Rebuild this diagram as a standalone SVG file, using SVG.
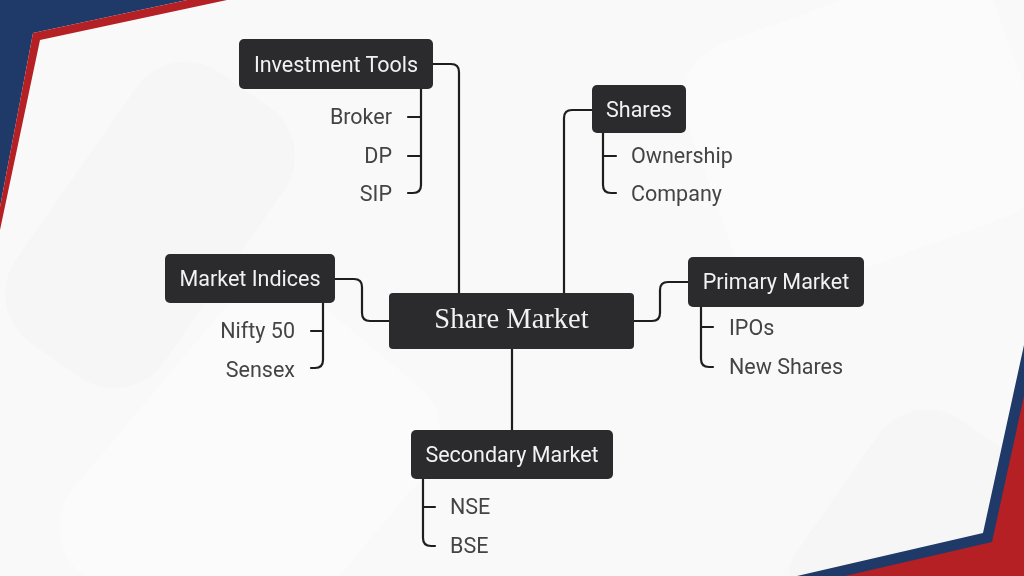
<svg xmlns="http://www.w3.org/2000/svg" width="1024" height="576" viewBox="0 0 1024 576">
<style>
.node rect{fill:#2b2b2e}
.nt{font-family:Roboto,"Liberation Sans",sans-serif;font-size:21.5px;fill:#f2f2f2;text-anchor:middle}
.ct{font-family:Roboto,"Liberation Sans",sans-serif;font-size:21.5px;fill:#444}
.r{text-anchor:end}
#connectors path{fill:none;stroke:#1e1e1e;stroke-width:2.2;stroke-linecap:round}
</style>
<rect width="1024" height="576" fill="#f9f9f9"/>
<g opacity="0.5">
<rect x="60" y="60" width="180" height="330" rx="60" fill="#f3f3f3" transform="rotate(35 150 225)"/>
<rect x="120" y="300" width="260" height="360" rx="60" fill="#fdfdfd" transform="rotate(40 250 480)"/>
<rect x="820" y="420" width="200" height="260" rx="60" fill="#f3f3f3" transform="rotate(35 920 550)"/>
<rect x="700" y="0" width="330" height="260" rx="60" fill="#fdfdfd" transform="rotate(-20 865 130)"/>
</g>
<polygon points="0,0 187,0 33,33 0,207" fill="#1f3a68"/>
<polygon points="187,0 227,0 40,40 0,230 0,207 33,33" fill="#b52024"/>
<polygon points="1024,345 983,533 797,576 1024,576" fill="#1f3a68"/>
<polygon points="1024,396 992,542 845,576 1024,576" fill="#b52024"/>
<g id="connectors">
<path d="M433,64 H451 Q459,64 459,72 V293"/>
<path d="M592,110 H572 Q564,110 564,118 V293"/>
<path d="M335,279 H354 Q362,279 362,287 V313 Q362,321 370,321 H389"/>
<path d="M634,321 H652 Q660,321 660,313 V290 Q660,282 668,282 H688"/>
<path d="M512,349 V430"/>
<path d="M421,89 V185 Q421,193 413,193 H408 M408,117 H421 M408,156 H421"/>
<path d="M603,133 V185 Q603,193 611,193 H616 M603,156 H616"/>
<path d="M323,303 V360 Q323,368 315,368 H311 M311,331 H323"/>
<path d="M701,307 V359 Q701,367 709,367 H713 M701,327 H713"/>
<path d="M423,479 V538 Q423,546 431,546 H435 M423,507 H435"/>
</g>
<g id="share-market" class="node">
<rect x="389" y="293" width="245" height="56" rx="4"/>
<text x="511.5" y="328" font-family="'Liberation Serif','DejaVu Serif',serif" font-size="28.5" fill="#f2f2f2" text-anchor="middle">Share Market</text>
</g>
<g id="investment-tools" class="node">
<rect x="239" y="39" width="194" height="50" rx="5"/>
<text class="nt" x="336" y="72">Investment Tools</text>
</g>
<g id="shares" class="node">
<rect x="592" y="85" width="94" height="48" rx="5"/>
<text class="nt" x="639" y="117">Shares</text>
</g>
<g id="market-indices" class="node">
<rect x="165" y="254" width="170" height="49" rx="5"/>
<text class="nt" x="250" y="286">Market Indices</text>
</g>
<g id="primary-market" class="node">
<rect x="688" y="257" width="176" height="50" rx="5"/>
<text class="nt" x="776" y="289">Primary Market</text>
</g>
<g id="secondary-market" class="node">
<rect x="411" y="430" width="202" height="49" rx="5"/>
<text class="nt" x="512" y="462">Secondary Market</text>
</g>
<g id="broker"><text class="ct r" x="392" y="124">Broker</text></g>
<g id="dp"><text class="ct r" x="392" y="163">DP</text></g>
<g id="sip"><text class="ct r" x="392" y="201">SIP</text></g>
<g id="ownership"><text class="ct" x="631" y="163">Ownership</text></g>
<g id="company"><text class="ct" x="631" y="201">Company</text></g>
<g id="nifty-50"><text class="ct r" x="295" y="338">Nifty 50</text></g>
<g id="sensex"><text class="ct r" x="295" y="377">Sensex</text></g>
<g id="ipos"><text class="ct" x="729" y="335">IPOs</text></g>
<g id="new-shares"><text class="ct" x="729" y="374">New Shares</text></g>
<g id="nse"><text class="ct" x="450" y="514">NSE</text></g>
<g id="bse"><text class="ct" x="450" y="553">BSE</text></g>
</svg>
